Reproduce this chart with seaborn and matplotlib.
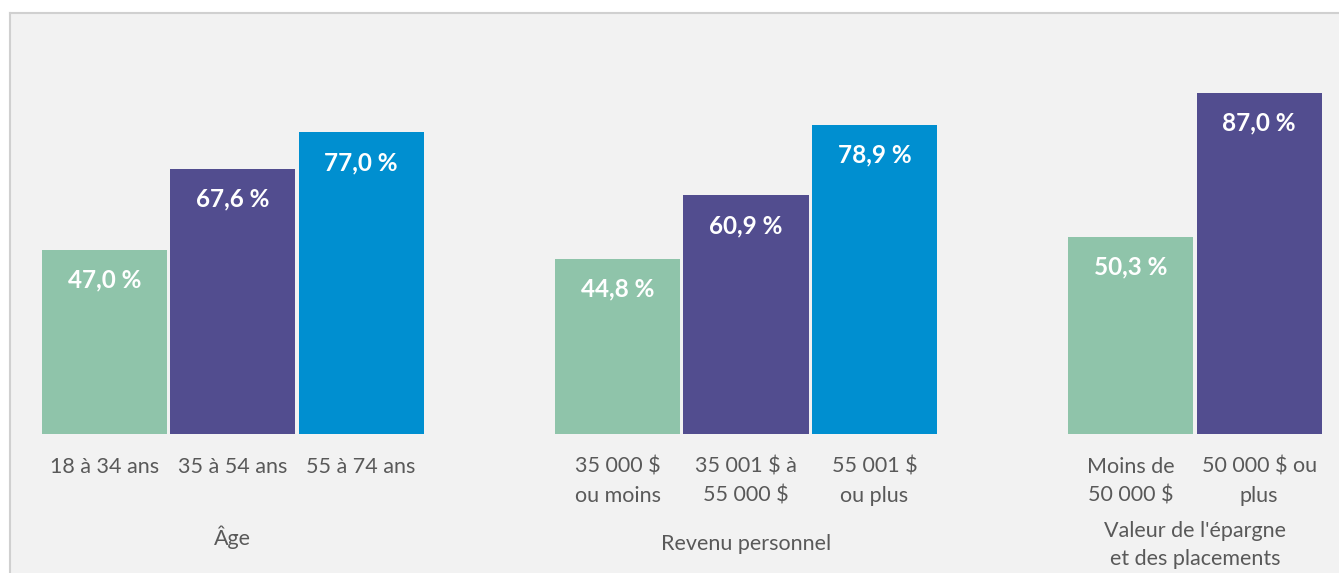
import pandas as pd
import matplotlib.pyplot as plt
import seaborn as sns

# Données
groupes = ["Âge", "Revenu personnel", "Valeur de l'épargne\net des placements"]

age_labels = ["18 à 34 ans", "35 à 54 ans", "55 à 74 ans"]
age_valeurs = [47.0, 67.6, 77.0]

revenu_labels = ["35 000 $\nou moins", "35 001 $ à\n55 000 $", "55 001 $\nou plus"]
revenu_valeurs = [44.8, 60.9, 78.9]

epargne_labels = ["Moins de\n50 000 $", "50 000 $ ou\nplus"]
epargne_valeurs = [50.3, 87.0]

couleurs = ["#8fc4aa", "#524d8f", "#008fd0"]

# Construire le tableau (une case vide entre les groupes)
rows = []
pos = 0
centres = []
for labels, valeurs in [(age_labels, age_valeurs), (revenu_labels, revenu_valeurs),
                        (epargne_labels, epargne_valeurs)]:
    start = pos
    for i, (lab, val) in enumerate(zip(labels, valeurs)):
        rows.append({"pos": pos, "valeur": val, "rang": i, "label": lab})
        pos += 1
    centres.append((start + pos - 1) / 2)
    pos += 1
data = pd.DataFrame(rows)

sns.set_style("white")
plt.rcParams["font.family"] = ["Lato", "DejaVu Sans"]

W, H = 1339, 573
fig = plt.figure(figsize=(W / 100, H / 100), dpi=100, facecolor="white")
ax = fig.add_axes([10 / W, 0, (W - 10) / W, (H - 13) / H])
ax.set_facecolor("#f2f2f2")

sns.barplot(data=data, x="pos", y="valeur", hue="rang", palette=couleurs,
            native_scale=True, dodge=False, width=0.975, saturation=1,
            linewidth=0, legend=False, ax=ax)

ax.set_xlim(-0.737, 9.622)
ax.set_ylim(-35.5, 107.5)
ax.set_xticks([])
ax.set_yticks([])
ax.set_xlabel("")
ax.set_ylabel("")
for side in ["right", "bottom"]:
    ax.spines[side].set_visible(False)
for side in ["left", "top"]:
    ax.spines[side].set_color("#d0d0d0")
    ax.spines[side].set_linewidth(1.5)

px = 0.72  # points par pixel

# Valeurs dans les barres
for _, r in data.iterrows():
    ax.annotate(f"{r['valeur']:.1f} %".replace(".", ","), xy=(r["pos"], r["valeur"]),
                xytext=(0, -30 * px), textcoords="offset points",
                ha="center", va="center", color="white", fontsize=17.5, fontweight="bold")

# Étiquettes des catégories
for _, r in data.iterrows():
    ax.annotate(r["label"], xy=(r["pos"], 0), xytext=(0, -23 * px),
                textcoords="offset points", ha="center", va="top",
                color="#595959", fontsize=15.5, linespacing=1.55)

# Étiquettes des groupes
decalages = [103, 110, 111]
for c, g, d in zip(centres, groupes, decalages):
    ax.annotate(g, xy=(c, 0), xytext=(0, -d * px), textcoords="offset points",
                ha="center", va="center", color="#595959", fontsize=15.5,
                linespacing=1.55)

fig.savefig("out.png", dpi=100, facecolor="white")
